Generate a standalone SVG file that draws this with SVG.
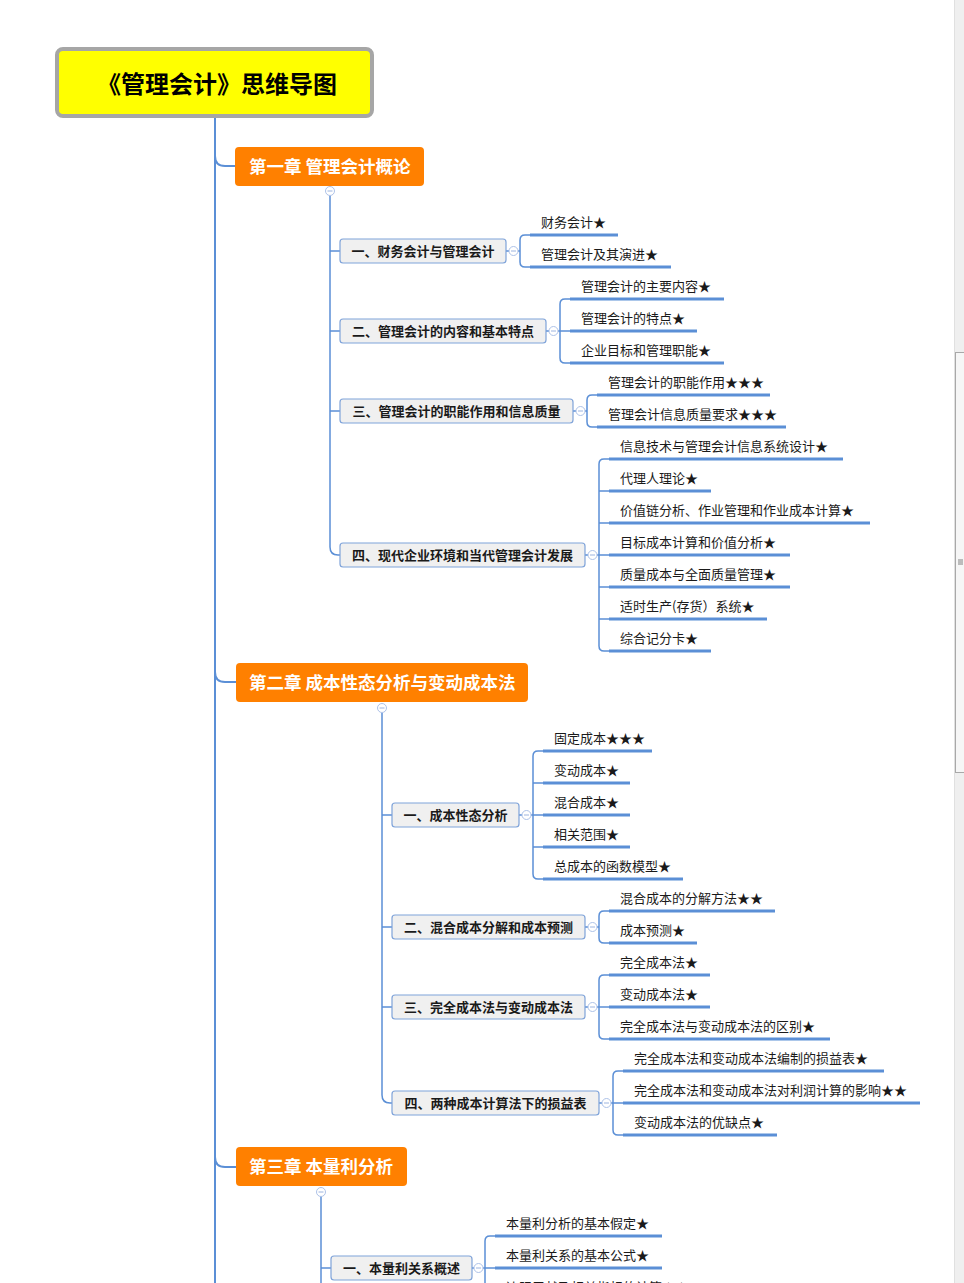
<svg xmlns="http://www.w3.org/2000/svg" width="964" height="1283" viewBox="0 0 964 1283">
<defs>
<style>
.tr{fill:none;stroke:#5b8fd6;stroke-width:2}
.ln{fill:none;stroke:#5b8fd6;stroke-width:1.5}
.ul{stroke:#5b8fd6;stroke-width:3}
.sec{fill:#f0f0f0;stroke:#7fa3d9;stroke-width:1.2}
.st{font-family:"Noto Sans CJK SC","Liberation Sans",sans-serif;font-size:13px;font-weight:bold;fill:#1a1a1a;text-anchor:middle}
.lt{font-family:"Noto Sans CJK SC","Liberation Sans",sans-serif;font-size:13px;fill:#1a1a1a}
.ch{fill:#ff8000}
.ct{font-family:"Noto Sans CJK SC","Liberation Sans",sans-serif;font-size:17.5px;font-weight:bold;fill:#ffffff}
.tg{fill:#ffffff;stroke:#adc2e8;stroke-width:1}
.tm{stroke:#9db4df;stroke-width:1}
</style>
</defs>
<rect x="0" y="0" width="964" height="1283" fill="#ffffff"/>

<g id="connectors">
<path class="tr" d="M215,118 V1283"/>
<path class="tr" d="M215,156 Q215,166 225,166 H235"/>
<path class="tr" d="M215,672 Q215,682 225,682 H236"/>
<path class="tr" d="M215,1157 Q215,1167 225,1167 H236"/>
<!-- chapter spines -->
<path class="ln" d="M330,196 V547 Q330,555 338,555 H340"/>
<path class="ln" d="M330,251 H340 M330,331 H340 M330,411 H340"/>
<path class="ln" d="M382,713 V1095 Q382,1103 390,1103 H392"/>
<path class="ln" d="M382,815 H392 M382,927 H392 M382,1007 H392"/>
<path class="ln" d="M321,1196 V1283 M321,1268 H331"/>
<!-- ch1 brackets -->
<path class="ln" d="M506,251 H509 M518,251 H520 M530,235 H525 Q520,235 520,240 V262 Q520,267 525,267 H530"/>
<path class="ln" d="M546,331 H549 M558,331 H560 M570,299 H565 Q560,299 560,304 V358 Q560,363 565,363 H570 M560,331 H570"/>
<path class="ln" d="M573,411 H576 M585,411 H587 M597,395 H592 Q587,395 587,400 V422 Q587,427 592,427 H597"/>
<path class="ln" d="M585,555 H588 M597,555 H599 M609,459 H604 Q599,459 599,464 V646 Q599,651 604,651 H609 M599,491 H609 M599,523 H609 M599,555 H609 M599,587 H609 M599,619 H609"/>
<!-- ch2 brackets -->
<path class="ln" d="M519,815 H522 M531,815 H533 M543,751 H538 Q533,751 533,756 V874 Q533,879 538,879 H543 M533,783 H543 M533,815 H543 M533,847 H543"/>
<path class="ln" d="M585,927 H588 M597,927 H599 M609,911 H604 Q599,911 599,916 V938 Q599,943 604,943 H609"/>
<path class="ln" d="M585,1007 H588 M597,1007 H599 M609,975 H604 Q599,975 599,980 V1034 Q599,1039 604,1039 H609 M599,1007 H609"/>
<path class="ln" d="M599,1103 H602 M611,1103 H613 M623,1071 H618 Q613,1071 613,1076 V1130 Q613,1135 618,1135 H623 M613,1103 H623"/>
<!-- ch3 brackets -->
<path class="ln" d="M472,1268 H474 M483,1268 H485 M495,1236 H490 Q485,1236 485,1241 V1295 Q485,1300 490,1300 H495 M485,1268 H495"/>
</g>

<g id="root">
<rect x="57" y="49" width="315" height="67" rx="6" fill="#ffff00" stroke="#a6a6a6" stroke-width="4"/>
<text x="217" y="93" text-anchor="middle" font-family="Noto Sans CJK SC, Liberation Sans, sans-serif" font-size="24" font-weight="bold" fill="#000000">《管理会计》思维导图</text>
</g>

<!-- Chapter 1 -->
<g id="ch1">
<rect class="ch" x="235" y="147" width="189" height="39" rx="4"/>
<text class="ct" x="249" y="173">第一章 管理会计概论</text>
<circle class="tg" cx="330" cy="191" r="4.5"/><line class="tm" x1="327.5" y1="191" x2="332.5" y2="191"/>
</g>
<g id="ch1-s1">
<rect class="sec" x="340" y="239" width="166" height="24" rx="3"/>
<text class="st" x="423" y="256">一、财务会计与管理会计</text>
<circle class="tg" cx="513.5" cy="251" r="4.5"/><line class="tm" x1="511" y1="251" x2="516" y2="251"/>
</g>
<g id="ch1-s1-l1"><text class="lt" x="541" y="227">财务会计★</text><line class="ul" x1="530" y1="235" x2="618" y2="235"/></g>
<g id="ch1-s1-l2"><text class="lt" x="541" y="259">管理会计及其演进★</text><line class="ul" x1="530" y1="267" x2="671" y2="267"/></g>

<g id="ch1-s2">
<rect class="sec" x="340" y="319" width="206" height="24" rx="3"/>
<text class="st" x="443" y="336">二、管理会计的内容和基本特点</text>
<circle class="tg" cx="553.5" cy="331" r="4.5"/><line class="tm" x1="551" y1="331" x2="556" y2="331"/>
</g>
<g id="ch1-s2-l1"><text class="lt" x="581" y="291">管理会计的主要内容★</text><line class="ul" x1="570" y1="299" x2="724" y2="299"/></g>
<g id="ch1-s2-l2"><text class="lt" x="581" y="323">管理会计的特点★</text><line class="ul" x1="570" y1="331" x2="697" y2="331"/></g>
<g id="ch1-s2-l3"><text class="lt" x="581" y="355">企业目标和管理职能★</text><line class="ul" x1="570" y1="363" x2="724" y2="363"/></g>

<g id="ch1-s3">
<rect class="sec" x="340" y="399" width="233" height="24" rx="3"/>
<text class="st" x="456.5" y="416">三、管理会计的职能作用和信息质量</text>
<circle class="tg" cx="580.5" cy="411" r="4.5"/><line class="tm" x1="578" y1="411" x2="583" y2="411"/>
</g>
<g id="ch1-s3-l1"><text class="lt" x="608" y="387">管理会计的职能作用★★★</text><line class="ul" x1="597" y1="395" x2="770" y2="395"/></g>
<g id="ch1-s3-l2"><text class="lt" x="608" y="419">管理会计信息质量要求★★★</text><line class="ul" x1="597" y1="427" x2="786" y2="427"/></g>

<g id="ch1-s4">
<rect class="sec" x="340" y="543" width="245" height="24" rx="3"/>
<text class="st" x="462.5" y="560">四、现代企业环境和当代管理会计发展</text>
<circle class="tg" cx="592.5" cy="555" r="4.5"/><line class="tm" x1="590" y1="555" x2="595" y2="555"/>
</g>
<g id="ch1-s4-l1"><text class="lt" x="620" y="451">信息技术与管理会计信息系统设计★</text><line class="ul" x1="609" y1="459" x2="843" y2="459"/></g>
<g id="ch1-s4-l2"><text class="lt" x="620" y="483">代理人理论★</text><line class="ul" x1="609" y1="491" x2="711" y2="491"/></g>
<g id="ch1-s4-l3"><text class="lt" x="620" y="515">价值链分析、作业管理和作业成本计算★</text><line class="ul" x1="609" y1="523" x2="870" y2="523"/></g>
<g id="ch1-s4-l4"><text class="lt" x="620" y="547">目标成本计算和价值分析★</text><line class="ul" x1="609" y1="555" x2="790" y2="555"/></g>
<g id="ch1-s4-l5"><text class="lt" x="620" y="579">质量成本与全面质量管理★</text><line class="ul" x1="609" y1="587" x2="790" y2="587"/></g>
<g id="ch1-s4-l6"><text class="lt" x="620" y="611">适时生产(存货）系统★</text><line class="ul" x1="609" y1="619" x2="767" y2="619"/></g>
<g id="ch1-s4-l7"><text class="lt" x="620" y="643">综合记分卡★</text><line class="ul" x1="609" y1="651" x2="711" y2="651"/></g>

<!-- Chapter 2 -->
<g id="ch2">
<rect class="ch" x="236" y="663" width="292" height="39" rx="4"/>
<text class="ct" x="249" y="689">第二章 成本性态分析与变动成本法</text>
<circle class="tg" cx="382" cy="708" r="4.5"/><line class="tm" x1="379.5" y1="708" x2="384.5" y2="708"/>
</g>
<g id="ch2-s1">
<rect class="sec" x="392" y="803" width="127" height="24" rx="3"/>
<text class="st" x="455.5" y="820">一、成本性态分析</text>
<circle class="tg" cx="526.5" cy="815" r="4.5"/><line class="tm" x1="524" y1="815" x2="529" y2="815"/>
</g>
<g id="ch2-s1-l1"><text class="lt" x="554" y="743">固定成本★★★</text><line class="ul" x1="543" y1="751" x2="652" y2="751"/></g>
<g id="ch2-s1-l2"><text class="lt" x="554" y="775">变动成本★</text><line class="ul" x1="543" y1="783" x2="630" y2="783"/></g>
<g id="ch2-s1-l3"><text class="lt" x="554" y="807">混合成本★</text><line class="ul" x1="543" y1="815" x2="630" y2="815"/></g>
<g id="ch2-s1-l4"><text class="lt" x="554" y="839">相关范围★</text><line class="ul" x1="543" y1="847" x2="630" y2="847"/></g>
<g id="ch2-s1-l5"><text class="lt" x="554" y="871">总成本的函数模型★</text><line class="ul" x1="543" y1="879" x2="683" y2="879"/></g>

<g id="ch2-s2">
<rect class="sec" x="392" y="915" width="193" height="24" rx="3"/>
<text class="st" x="488.5" y="932">二、混合成本分解和成本预测</text>
<circle class="tg" cx="592.5" cy="927" r="4.5"/><line class="tm" x1="590" y1="927" x2="595" y2="927"/>
</g>
<g id="ch2-s2-l1"><text class="lt" x="620" y="903">混合成本的分解方法★★</text><line class="ul" x1="609" y1="911" x2="775" y2="911"/></g>
<g id="ch2-s2-l2"><text class="lt" x="620" y="935">成本预测★</text><line class="ul" x1="609" y1="943" x2="697" y2="943"/></g>

<g id="ch2-s3">
<rect class="sec" x="392" y="995" width="193" height="24" rx="3"/>
<text class="st" x="488.5" y="1012">三、完全成本法与变动成本法</text>
<circle class="tg" cx="592.5" cy="1007" r="4.5"/><line class="tm" x1="590" y1="1007" x2="595" y2="1007"/>
</g>
<g id="ch2-s3-l1"><text class="lt" x="620" y="967">完全成本法★</text><line class="ul" x1="609" y1="975" x2="710" y2="975"/></g>
<g id="ch2-s3-l2"><text class="lt" x="620" y="999">变动成本法★</text><line class="ul" x1="609" y1="1007" x2="710" y2="1007"/></g>
<g id="ch2-s3-l3"><text class="lt" x="620" y="1031">完全成本法与变动成本法的区别★</text><line class="ul" x1="609" y1="1039" x2="830" y2="1039"/></g>

<g id="ch2-s4">
<rect class="sec" x="392" y="1091" width="207" height="24" rx="3"/>
<text class="st" x="495.5" y="1108">四、两种成本计算法下的损益表</text>
<circle class="tg" cx="606.5" cy="1103" r="4.5"/><line class="tm" x1="604" y1="1103" x2="609" y2="1103"/>
</g>
<g id="ch2-s4-l1"><text class="lt" x="634" y="1063">完全成本法和变动成本法编制的损益表★</text><line class="ul" x1="623" y1="1071" x2="884" y2="1071"/></g>
<g id="ch2-s4-l2"><text class="lt" x="634" y="1095">完全成本法和变动成本法对利润计算的影响★★</text><line class="ul" x1="623" y1="1103" x2="920" y2="1103"/></g>
<g id="ch2-s4-l3"><text class="lt" x="634" y="1127">变动成本法的优缺点★</text><line class="ul" x1="623" y1="1135" x2="777" y2="1135"/></g>

<!-- Chapter 3 -->
<g id="ch3">
<rect class="ch" x="236" y="1147" width="171" height="39" rx="4"/>
<text class="ct" x="249" y="1173">第三章 本量利分析</text>
<circle class="tg" cx="321" cy="1192" r="4.5"/><line class="tm" x1="318.5" y1="1192" x2="323.5" y2="1192"/>
</g>
<g id="ch3-s1">
<rect class="sec" x="331" y="1256" width="141" height="24" rx="3"/>
<text class="st" x="401.5" y="1273">一、本量利关系概述</text>
<circle class="tg" cx="478.5" cy="1268" r="4.5"/><line class="tm" x1="476" y1="1268" x2="481" y2="1268"/>
</g>
<g id="ch3-s1-l1"><text class="lt" x="506" y="1228">本量利分析的基本假定★</text><line class="ul" x1="495" y1="1236" x2="662" y2="1236"/></g>
<g id="ch3-s1-l2"><text class="lt" x="506" y="1260">本量利关系的基本公式★</text><line class="ul" x1="495" y1="1268" x2="662" y2="1268"/></g>
<g id="ch3-s1-l3"><text class="lt" x="506" y="1292">边际贡献及相关指标的计算★★</text></g>

<g id="scrollbar">
<rect x="954" y="0" width="10" height="1283" fill="#efefef"/>
<line x1="954.5" y1="0" x2="954.5" y2="1283" stroke="#e0e0e0" stroke-width="1"/>
<rect x="955.5" y="352.5" width="9" height="420" fill="#f6f6f6" stroke="#a8a8a8" stroke-width="1"/>
<path d="M958,560 H963 M958,562 H963 M958,564 H963" stroke="#666666" stroke-width="0.8"/>
</g>
</svg>
